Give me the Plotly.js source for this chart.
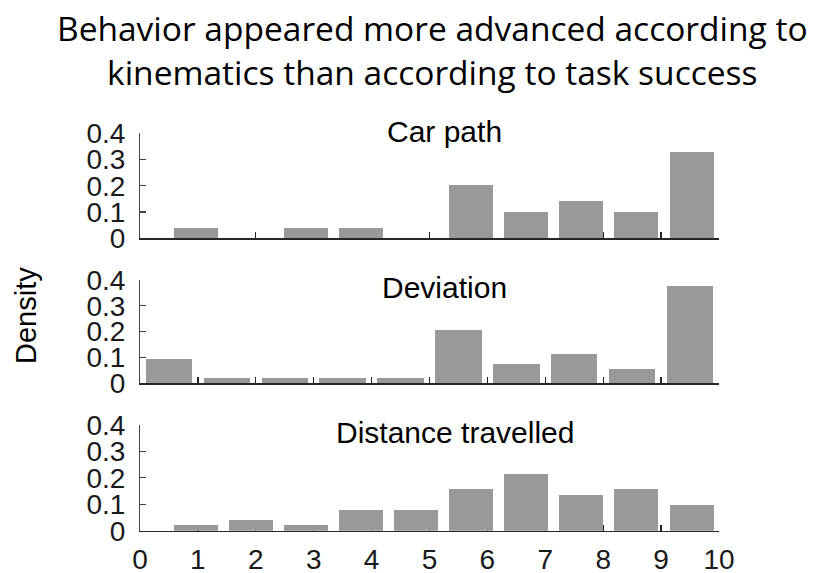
<!DOCTYPE html>
<html>
<head>
<meta charset="utf-8">
<script src="https://cdn.plot.ly/plotly-3.0.1.min.js"></script>
<style>
  html, body { margin: 0; padding: 0; background: #ffffff; }
  #chart { width: 814px; height: 573px; }
</style>
</head>
<body>
<div id="chart"></div>
<script>
// ---- data ----
const chartTitle = 'Behavior appeared more advanced according to<br>kinematics than according to task success';
const yLabel = 'Density';
const panelTitles = ['Car path', 'Deviation', 'Distance travelled'];

// bin centres (histograms)
const binCentersA = [0.975, 1.925, 2.875, 3.825, 4.775, 5.725, 6.675, 7.625, 8.575, 9.525];
const binCentersB = [0.5, 1.5, 2.5, 3.5, 4.5, 5.5, 6.5, 7.5, 8.5, 9.5];

const carPath   = [0.041, 0, 0.041, 0.041, 0, 0.204, 0.102, 0.143, 0.102, 0.327];
const deviation = [0.094, 0.019, 0.019, 0.019, 0.019, 0.208, 0.075, 0.113, 0.057, 0.377];
const distance  = [0.020, 0.039, 0.020, 0.078, 0.078, 0.157, 0.216, 0.137, 0.157, 0.098];

const xTickVals = [0, 1, 2, 3, 4, 5, 6, 7, 8, 9, 10];
const xTickText = ['0', '1', '2', '3', '4', '5', '6', '7', '8', '9', '10'];
const yTickVals = [0, 0.1, 0.2, 0.3, 0.4];
const yTickText = ['0', '0.1', '0.2', '0.3', '0.4'];

// ---- styling ----
const barColor = '#999999';
const axisColor = '#262626';
const tickFont = { family: 'Liberation Sans, Arial, Helvetica, sans-serif', size: 28, color: '#1a1a1a' };

const series = [
  { x: binCentersA, y: carPath,   width: 0.76 },
  { x: binCentersB, y: deviation, width: 0.8 },
  { x: binCentersA, y: distance,  width: 0.76 }
];

const traces = series.map((s, i) => ({
  type: 'bar',
  x: s.x,
  y: s.y,
  width: s.width,
  marker: { color: barColor, line: { width: 0 } },
  xaxis: i === 0 ? 'x' : 'x' + (i + 1),
  yaxis: i === 0 ? 'y' : 'y' + (i + 1),
  hoverinfo: 'x+y',
  showlegend: false
}));

const H = 573;
const L = 140, PW = 579;
// pixel positions of the 0 / 0.4 lines of each panel
const panelPix = [[238.3, 133.3], [383.3, 280.0], [530.7, 425.0]];
// pixel centres of the panel titles
const panelTitlePix = [[444, 131], [444, 287], [455, 432]];

const layout = {
  width: 814,
  height: 573,
  paper_bgcolor: '#ffffff',
  plot_bgcolor: '#ffffff',
  margin: { l: L, r: 814 - L - PW, t: 0, b: 0, pad: 0 },
  bargap: 0,
  showlegend: false,
  annotations: [
    {
      text: chartTitle, xref: 'paper', yref: 'paper',
      x: (432 - L) / PW, y: (H - 50) / H,
      xanchor: 'center', yanchor: 'middle', showarrow: false, align: 'center',
      font: { family: 'Open Sans, Noto Sans, sans-serif', size: 33.5, color: '#000000' }
    },
    {
      text: yLabel, xref: 'paper', yref: 'paper',
      x: (26 - L) / PW, y: (H - 316) / H,
      xanchor: 'center', yanchor: 'middle', textangle: -90, showarrow: false,
      font: { family: 'Liberation Sans, Arial, sans-serif', size: 29, color: '#000000' }
    }
  ].concat(panelTitles.map((t, i) => ({
    text: t, xref: 'paper', yref: 'paper',
    x: (panelTitlePix[i][0] - L) / PW, y: (H - panelTitlePix[i][1]) / H,
    xanchor: 'center', yanchor: 'middle', showarrow: false,
    font: { family: 'Liberation Sans, Arial, sans-serif', size: 30, color: '#000000' }
  })))
};

panelPix.forEach((p, i) => {
  const sfx = i === 0 ? '' : String(i + 1);
  layout['xaxis' + sfx] = {
    domain: [0, 1],
    range: [0, 10],
    anchor: 'y' + sfx,
    tickmode: 'array',
    tickvals: xTickVals,
    ticktext: xTickText,
    showticklabels: i === 2,
    ticks: 'inside',
    ticklen: 6,
    tickwidth: 1.2,
    tickcolor: axisColor,
    showline: true,
    linecolor: axisColor,
    linewidth: 1.5,
    showgrid: false,
    zeroline: false,
    layer: 'below traces',
    tickfont: tickFont,
    ticklabelstandoff: 3,
    fixedrange: true
  };
  layout['yaxis' + sfx] = {
    domain: [(H - p[0]) / H, (H - p[1]) / H],
    range: [0, 0.4],
    anchor: 'x' + sfx,
    tickmode: 'array',
    tickvals: yTickVals,
    ticktext: yTickText,
    ticks: 'inside',
    ticklen: 6,
    tickwidth: 1.2,
    tickcolor: '#444444',
    showline: true,
    linecolor: '#444444',
    linewidth: 1,
    showgrid: false,
    zeroline: false,
    layer: 'below traces',
    tickfont: tickFont,
    ticklabelstandoff: 8,
    fixedrange: true
  };
});

Plotly.newPlot('chart', traces, layout, { displayModeBar: false, staticPlot: true });
</script>
</body>
</html>
